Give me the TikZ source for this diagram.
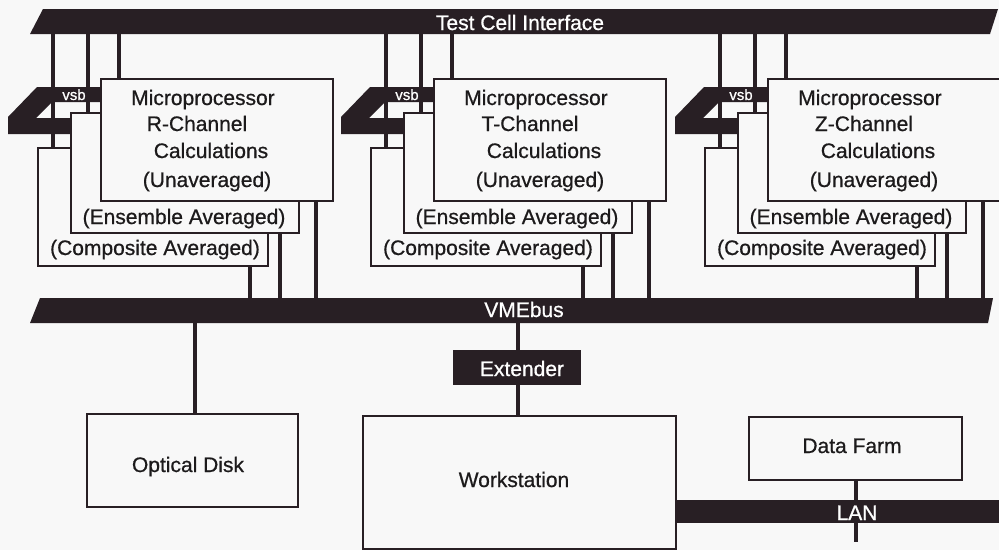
\documentclass[tikz,border=0pt]{standalone}
\usepackage{fontspec}
\setmainfont{Liberation Sans}
\newfontfamily\medfont{Liberation Sans}[FakeBold=0.7]
\usetikzlibrary{calc}
\definecolor{ink}{RGB}{40,31,36}
\definecolor{paper}{RGB}{248,248,248}
\definecolor{txt}{RGB}{28,26,27}
\begin{document}
\begin{tikzpicture}[x=1pt,y=-1pt,
  box/.style={draw=ink,line width=2.2pt,fill=paper,inner sep=0pt,anchor=north west},
  wire/.style={draw=ink,line width=3.2pt},
  lbl/.style={text=txt,font=\medfont\fontsize{21}{24}\selectfont,inner sep=0pt,anchor=base},
  wlbl/.style={text=white,font=\medfont\fontsize{21}{24}\selectfont,inner sep=0pt,anchor=base},
  vsblbl/.style={text=white,font=\medfont\fontsize{15}{15}\selectfont,inner sep=0pt,anchor=base},
  barnode/.style={inner sep=0pt,draw=none}]
\fill[paper] (0,0) rectangle (999,550);
\useasboundingbox (0,0) rectangle (999,550);

% buses
\fill[ink] (43,9) -- (998,9) -- (990,34) -- (30,34) -- cycle;
\node[barnode,minimum width=955pt,minimum height=25pt] (tci) at (514,21.5) {};
\node[wlbl] at (520,30) {Test Cell Interface};

\fill[ink] (40,298) -- (993,298) -- (988,323) -- (30,323) -- cycle;
\node[barnode,minimum width=958pt,minimum height=25pt] (vme) at (511,310.5) {};
\node[wlbl] at (524,317) {VMEbus};

% channel groups
\foreach \o/\c/\n in {0/R/a,333/T/b,667/Z/c}{
  \fill[ink] (\o+37,87) -- (\o+101,87) -- (\o+101,102) -- (\o+52,102) -- (\o+36,118)
        -- (\o+71,118) -- (\o+71,134) -- (\o+8,134) -- (\o+8,117) -- cycle;
  \node[vsblbl] at (\o+74,100) {vsb};
  \node[box,minimum width=230pt,minimum height=118pt] (c\n) at (\o+37,147) {};
  \node[box,minimum width=228pt,minimum height=120pt] (e\n) at (\o+70,112) {};
  \node[box,minimum width=232pt,minimum height=122pt] (m\n) at (\o+100,78) {};
  \node[lbl] at (\o+155,255) {(Composite Averaged)};
  \node[lbl] at (\o+184,224) {(Ensemble Averaged)};
  \node[lbl] at (\o+203,105) {Microprocessor};
  \node[lbl] at (\o+197,131) {\c-Channel};
  \node[lbl] at (\o+211,158) {Calculations};
  \node[lbl] at (\o+207,187) {(Unaveraged)};
  % connectors to Test Cell Interface
  \draw[wire] (c\n.north west) ++(16,0) coordinate (t1\n) -- (t1\n |- tci.south);
  \draw[wire] (e\n.north west) ++(18,0) coordinate (t2\n) -- (t2\n |- tci.south);
  \draw[wire] (m\n.north west) ++(19,0) coordinate (t3\n) -- (t3\n |- tci.south);
  % connectors to VMEbus
  \draw[wire] (c\n.south west) ++(213,0) coordinate (v1\n) -- (v1\n |- vme.north);
  \draw[wire] (e\n.south west) ++(210,0) coordinate (v2\n) -- (v2\n |- vme.north);
  \draw[wire] (m\n.south west) ++(216,0) coordinate (v3\n) -- (v3\n |- vme.north);
}

% lower part
\node[box,minimum width=211pt,minimum height=93pt] (od) at (86,413) {};
\node[lbl] at (188,472) {Optical Disk};
\node[fill=ink,inner sep=0pt,minimum width=128pt,minimum height=35pt] (ext) at (517,367.5) {};
\node[wlbl] at (522,376) {Extender};
\node[box,minimum width=313pt,minimum height=133pt] (ws) at (362,415) {};
\node[lbl] at (514,487) {Workstation};
\node[box,minimum width=213pt,minimum height=63pt] (df) at (748,416) {};
\node[lbl] at (852,453) {Data Farm};

\fill[ink] (675,500) rectangle (999,523);
\node[barnode,minimum width=324pt,minimum height=23pt] (lan) at (837,511.5) {};
\coordinate (lanend) at (856,542);

\draw[wire] (od.north -| 195,0) -- (195,0 |- vme.south);
\draw[wire] (ext.north -| 518,0) -- (518,0 |- vme.south);
\draw[wire] (ext.south -| 518,0) -- (518,0 |- ws.north);
\draw[wire] (df.south -| lanend) -- (lanend);
\node[wlbl] at (857,520) {LAN};
\end{tikzpicture}
\end{document}
